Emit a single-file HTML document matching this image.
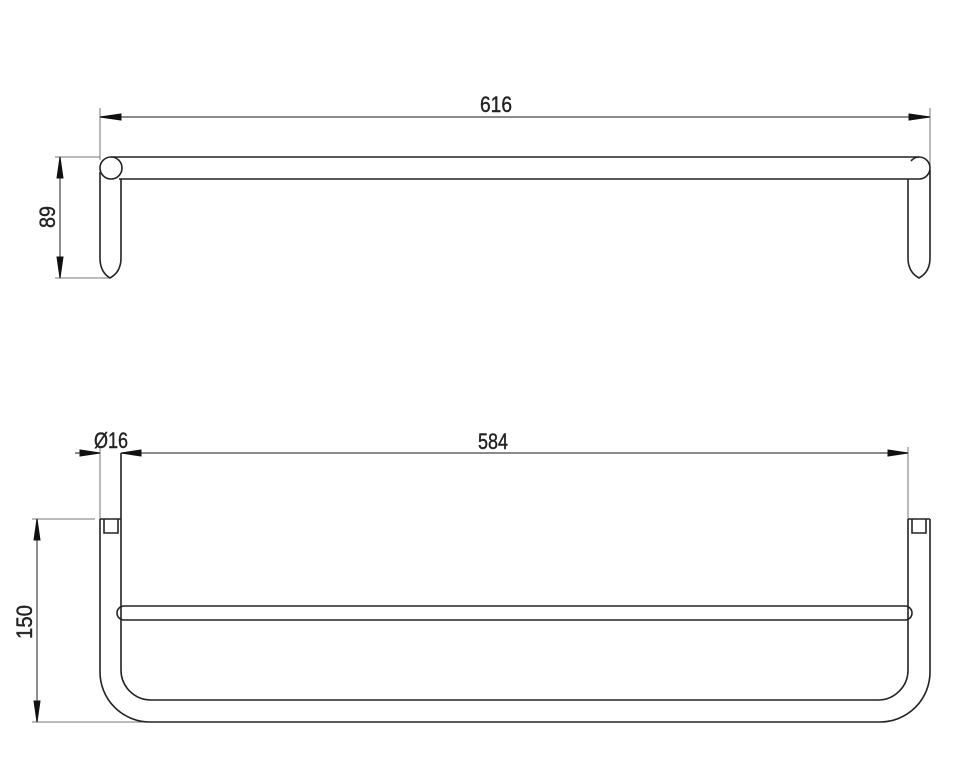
<!DOCTYPE html>
<html><head><meta charset="utf-8"><style>
html,body{margin:0;padding:0;background:#fff;}
svg{display:block;}
text{font-family:"Liberation Sans",sans-serif;font-size:22px;fill:#222;stroke:#222;stroke-width:0.4;}
</style></head><body>
<svg width="965" height="763" viewBox="0 0 965 763" xmlns="http://www.w3.org/2000/svg">
<g stroke="#777" stroke-width="1" fill="none">
<line x1="100" y1="108" x2="100" y2="160"/>
<line x1="930" y1="108" x2="930" y2="168"/>
<line x1="55" y1="157" x2="100" y2="157"/>
<line x1="55" y1="278" x2="110" y2="278"/>
<line x1="100" y1="447" x2="100" y2="519"/>
<line x1="908" y1="447" x2="908" y2="519"/>
<line x1="32" y1="519" x2="95" y2="519"/>
<line x1="32" y1="722" x2="150" y2="722"/>
</g>
<g stroke="#444" stroke-width="1.2" fill="none">
<line x1="100" y1="117" x2="930" y2="117"/>
<line x1="60" y1="157" x2="60" y2="278"/>
<line x1="75" y1="453" x2="100" y2="453"/>
<line x1="121" y1="453" x2="908" y2="453"/>
<line x1="37" y1="519" x2="37" y2="722"/>
</g>
<g stroke="#111" fill="#111">
<path d="M100,117 L121,114 L121,120 Z"/>
<path d="M930,117 L909,114 L909,120 Z"/>
<path d="M60,157 L57,178 L63,178 Z"/>
<path d="M60,278 L57,257 L63,257 Z"/>
<path d="M100,453 L80,450 L80,456 Z"/>
<path d="M121,453 L141,450 L141,456 Z"/>
<path d="M908,453 L888,450 L888,456 Z"/>
<path d="M37,519 L34,540 L40,540 Z"/>
<path d="M37,722 L34,701 L40,701 Z"/>
</g>
<g stroke="#222" stroke-width="1.6" fill="none">
<circle cx="111" cy="168" r="11"/>
<line x1="111" y1="157" x2="919" y2="157"/>
<line x1="119" y1="179" x2="919" y2="179"/>
<path d="M919,157 A11,11 0 0 1 919,179"/>
<path d="M911,161 A11,11 0 0 1 919,157"/>
<path d="M100,172 L100,258 Q100,272 110,278 Q121,272 121,258 L121,179"/>
<path d="M908,179 L908,258 Q908,272 919,278 Q930,272 930,258 L930,170"/>
<path d="M121,453 L121,670 A30,30 0 0 0 151,700 L878,700 A30,30 0 0 0 908,670 L908,519"/>
<path d="M100,519 L100,672 A50,50 0 0 0 150,722 L880,722 A50,50 0 0 0 930,672 L930,519"/>
<line x1="100" y1="519" x2="121" y2="519"/>
<line x1="908" y1="519" x2="930" y2="519"/>
<path d="M104,519 L104,533 L118,533 L118,519"/>
<path d="M912,519 L912,533 L926,533 L926,519"/>
<path d="M124,606 L905,606 A7,7 0 0 1 905,620 L124,620 A7,7 0 0 1 124,606"/>
</g>
<text x="496" y="112" text-anchor="middle" textLength="32" lengthAdjust="spacingAndGlyphs">616</text>
<text x="493" y="449" text-anchor="middle" textLength="30" lengthAdjust="spacingAndGlyphs">584</text>
<text x="111" y="448" text-anchor="middle" textLength="34" lengthAdjust="spacingAndGlyphs">Ø16</text>
<text transform="translate(55,217) rotate(-90)" text-anchor="middle" textLength="22" lengthAdjust="spacingAndGlyphs">89</text>
<text transform="translate(32,622) rotate(-90)" text-anchor="middle" textLength="34" lengthAdjust="spacingAndGlyphs">150</text>
</svg>
</body></html>
